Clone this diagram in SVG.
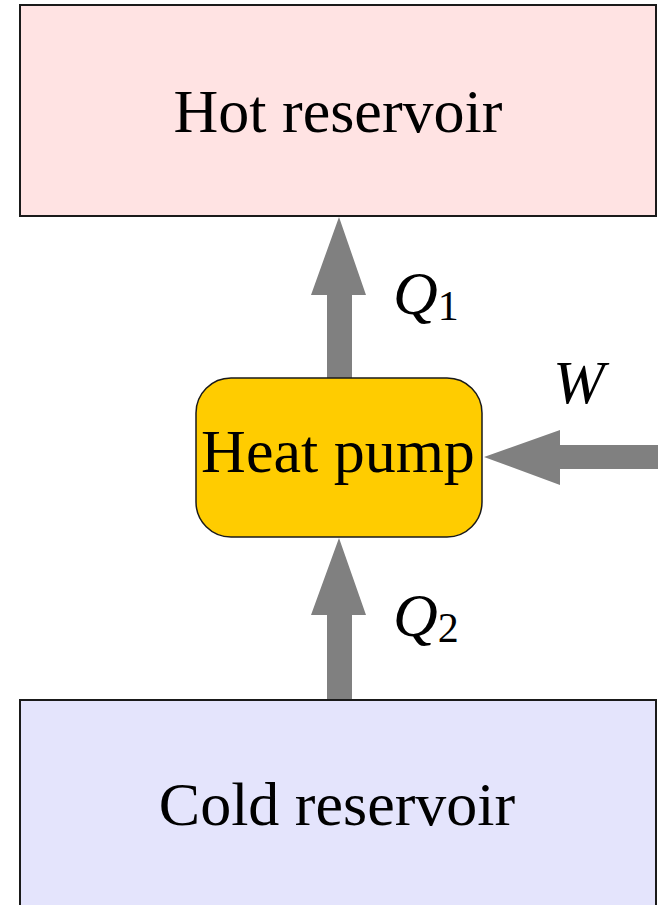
<svg xmlns="http://www.w3.org/2000/svg" width="658" height="905" viewBox="0 0 658 905">
<style>
.lbl{font-family:"Liberation Serif","Times New Roman",serif;font-size:62px;fill:#000}
.math{font-family:"Liberation Serif","Times New Roman",serif;font-style:italic;font-size:62px;fill:#000}
.sub{font-family:"Liberation Serif","Times New Roman",serif;font-size:42px;fill:#000}
.box{stroke:#1a1a1a;stroke-width:2}
.arr{fill:#808080}
</style>
<rect width="658" height="905" fill="#fff"/>
<g id="connectors">
<path class="arr" d="M327,378 V295 H311 L339,217 L366,295 H352 V378 Z"/>
<path class="arr" d="M327,700 V615 H311 L339,538 L366,615 H352 V700 Z"/>
<path class="arr" d="M658,445 H560 V430 L484,457 L560,485 V469 H658 Z"/>
</g>
<g id="hot">
<rect class="box" x="20" y="5" width="636" height="211" fill="#FFE3E3"/>
<text class="lbl" x="338" y="132" text-anchor="middle">Hot reservoir</text>
</g>
<g id="pump">
<rect x="196" y="378" width="286" height="159" rx="35" ry="35" fill="#FFCC00" stroke="#1a1a1a" stroke-width="1.5"/>
<text class="lbl" x="338" y="472" text-anchor="middle">Heat pump</text>
</g>
<g id="cold">
<rect class="box" x="20" y="700" width="636" height="215" fill="#E4E4FC"/>
<text class="lbl" x="337" y="825" text-anchor="middle">Cold reservoir</text>
</g>
<g id="labels">
<text x="393" y="314"><tspan class="math">Q</tspan><tspan class="sub" dy="6">1</tspan></text>
<text x="393" y="636"><tspan class="math">Q</tspan><tspan class="sub" dy="6">2</tspan></text>
<text class="math" x="553" y="403">W</text>
</g>
</svg>
